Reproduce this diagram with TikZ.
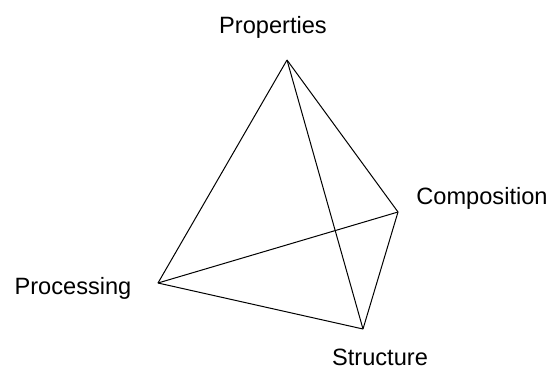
\documentclass[tikz,border=0pt]{standalone}
\usepackage{fontspec}
\setmainfont{Liberation Sans}
\usepackage{tikz}
\usetikzlibrary{positioning}

\begin{document}
\begin{tikzpicture}[x=1pt,y=-1pt,line width=1pt,
  lbl/.style={anchor=base,inner sep=0pt,font=\fontsize{23.6}{28}\selectfont}]
\useasboundingbox (0,0) rectangle (555,370);
% corners of the tetrahedron
\coordinate (prop) at (287,60);
\coordinate (comp) at (398,212);
\coordinate (proc) at (158,283);
\coordinate (struc) at (363,329);
% labels
\node[lbl] (propl) at (273,33) {Properties};
\node[lbl] (compl) at (482,204) {Composition};
\node[lbl] (procl) at (73,294) {Processing};
\node[lbl] (strucl) at (380,365) {Structure};
% edges
\draw (prop)--(proc);
\draw (prop)--(comp);
\draw (prop)--(struc);
\draw (proc)--(comp);
\draw (proc)--(struc);
\draw (comp)--(struc);
\end{tikzpicture}
\end{document}
